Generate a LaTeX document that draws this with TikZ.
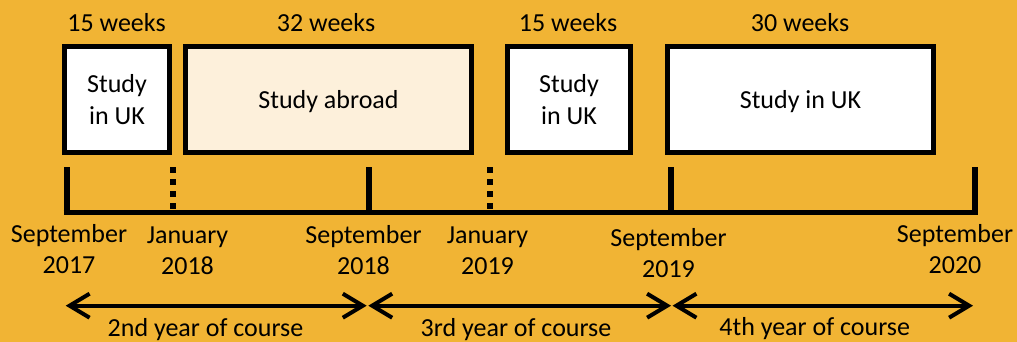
\documentclass[tikz,border=0pt]{standalone}
\usepackage{fontspec}
\setmainfont{Carlito}
\usetikzlibrary{arrows.meta}
\definecolor{bgorange}{HTML}{F1B434}
\definecolor{cream}{HTML}{FDF0DB}
\begin{document}
\begin{tikzpicture}[x=1pt,y=-1pt,
  lbl/.style={font=\fontsize{26}{31}\selectfont, inner sep=0pt, align=center},
  box/.style={draw=black, line width=5pt, inner sep=0pt, minimum height=106pt,
              font=\fontsize{26}{32}\selectfont, align=center},
  single/.style={text depth=0pt},
  tick/.style={line width=6pt},
  dottick/.style={line width=6pt, dash pattern=on 6pt off 6pt},
  axis/.style={line width=5pt},
  span/.style={line width=4pt,
    {Straight Barb[length=20pt,width=24pt]}-{Straight Barb[length=20pt,width=24pt]}}
]
\fill[bgorange] (0,0) rectangle (1017,342);
\useasboundingbox (0,0) rectangle (1017,342);

% boxes
\node[box, fill=white, minimum width=105pt] (b1) at (117,99.5) {Study\\in UK};
\node[box, fill=cream, minimum width=286pt, single] (b2) at (328.5,99.5) {Study abroad};
\node[box, fill=white, minimum width=123pt] (b3) at (569,99.5) {Study\\in UK};
\node[box, fill=white, minimum width=266pt, single] (b4) at (800.5,99.5) {Study in UK};

% durations
\node[lbl, anchor=base] (w1) at (116.5,31.7) {15 weeks};
\node[lbl, anchor=base] (w2) at (326,31.7) {32 weeks};
\node[lbl, anchor=base] (w3) at (568,31.7) {15 weeks};
\node[lbl, anchor=base] (w4) at (800,31.7) {30 weeks};

% timeline
\coordinate (s17) at (66.7,212.5);
\coordinate (j18) at (173,212.5);
\coordinate (s18) at (368.7,212.5);
\coordinate (j19) at (489.7,212.5);
\coordinate (s19) at (671,212.5);
\coordinate (s20) at (974.5,212.5);
\draw[axis] ([xshift=-3pt]s17) -- ([xshift=2.5pt]s20);
\foreach \c in {s17,s18,s19,s20}
  \draw[tick] ([yshift=45.5pt]\c) -- ([yshift=-2.5pt]\c);
\foreach \c in {j18,j19}
  \draw[dottick] ([yshift=45.2pt]\c) -- ([yshift=2.5pt]\c);

% dates
\node[lbl] (d1) at (69,249) {September\\2017};
\node[lbl] (d2) at (187.5,250.3) {January\\2018};
\node[lbl] (d3) at (363.5,250.4) {September\\2018};
\node[lbl] (d4) at (487.5,250.4) {January\\2019};
\node[lbl] (d5) at (668.5,252.9) {September\\2019};
\node[lbl] (d6) at (955,248.6) {September\\2020};

% year spans
\coordinate (a0) at (65.7,305.7);
\coordinate (a1) at (366.7,305.7);
\coordinate (a2) at (368.3,305.7);
\coordinate (a3) at (671,305.7);
\coordinate (a4) at (672.5,305.7);
\coordinate (a5) at (973,305.7);
\draw[span] (a0) -- (a1);
\draw[span] (a2) -- (a3);
\draw[span] (a4) -- (a5);

\node[lbl, anchor=base] (y2) at (205.5,336.7) {2nd year of course};
\node[lbl, anchor=base] (y3) at (516,336.7) {3rd year of course};
\node[lbl, anchor=base] (y4) at (814.7,335.5) {4th year of course};
\end{tikzpicture}
\end{document}
